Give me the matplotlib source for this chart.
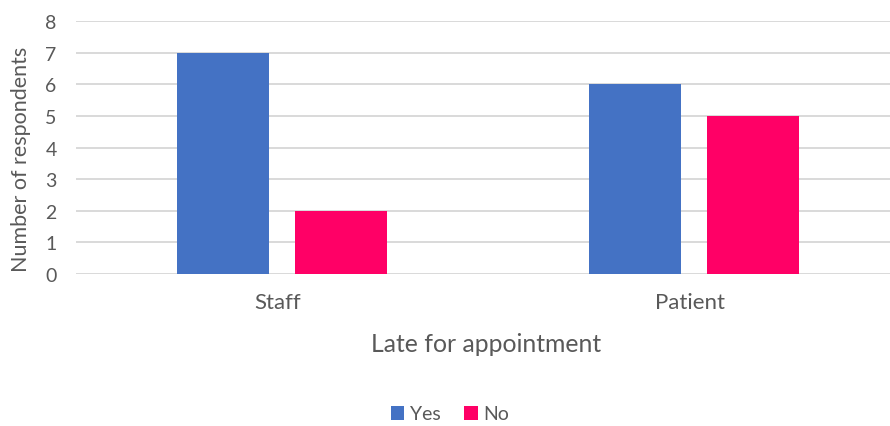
import numpy as np
import matplotlib.pyplot as plt

categories = ["Staff", "Patient"]
yes_values = [7, 6]
no_values = [2, 5]

plt.rcParams['font.family'] = ['Lato', 'DejaVu Sans']

fig = plt.figure(figsize=(8.9, 4.27), dpi=100)
ax = fig.add_axes([76/890, 152/427, 824/890, 253/427])

x = np.arange(len(categories))
w = 0.223
off = 0.143
ax.bar(x - off, yes_values, w, color="#4472C4", label="Yes", zorder=3)
ax.bar(x + off, no_values, w, color="#FF0066", label="No", zorder=3)

ax.set_xlim(-0.5, 1.5)
ax.set_ylim(0, 8)
ax.set_yticks(range(0, 9))
ax.set_xticks(x - 0.01)
ax.set_xticklabels(categories)
ax.grid(axis="y", color="#D9D9D9", linewidth=1.4, zorder=0)
ax.set_axisbelow(True)
for s in ax.spines.values():
    s.set_visible(False)
ax.tick_params(length=0, colors="#595959")
ax.tick_params(axis="x", pad=13, labelsize=16)
ax.tick_params(axis="y", pad=14, labelsize=14)

fig.text(486/890, 1 - 345/427, "Late for appointment", ha="center", va="center",
         fontsize=17.8, color="#595959")
fig.text(21/890, 1 - 159/427, "Number of respondents", ha="center", va="center",
         rotation=90, fontsize=15.5, color="#595959")

fig.legend(loc="center", bbox_to_anchor=(450/890, 1 - 415/427), ncol=2, frameon=False,
           fontsize=14, labelcolor="#595959", handlelength=0.7, handleheight=0.7,
           handletextpad=0.3, columnspacing=1.2)

fig.savefig("out.png", dpi=100)
